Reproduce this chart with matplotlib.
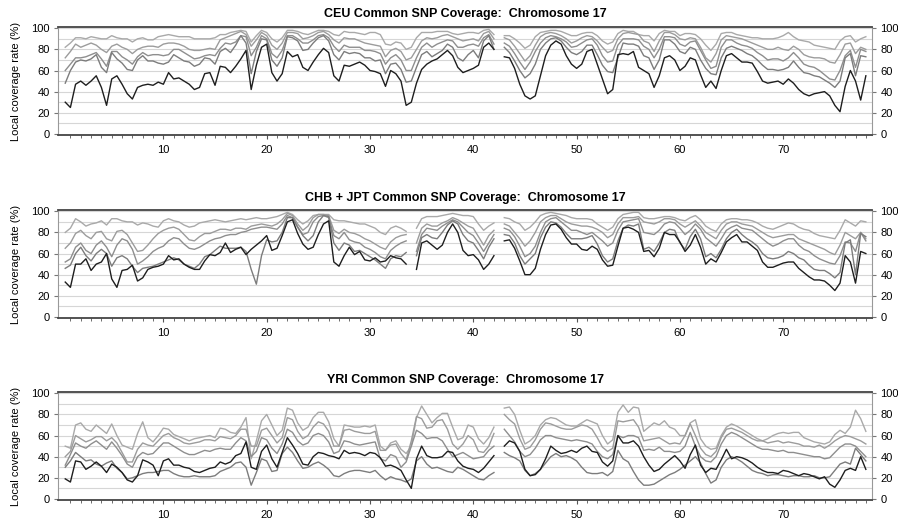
import numpy as np
import matplotlib.pyplot as plt

plt.rcParams['font.family'] = ['Liberation Sans', 'DejaVu Sans']

nan = np.nan

# window centres along chromosome 17 (Mb)
pos_mb = np.arange(0.5, 78.01, 0.5)

# CEU local coverage (%), five curves from top to bottom
ceu_1 = [82, 86, 91, 91, 90, 92, 91, 90, 90, 93,
         91, 90, 90, 87, 90, 91, 89, 89, 92, 93,
         94, 93, 92, 92, 92, 90, 90, 90, 90, 91,
         94, 94, 96, 97, 98, 97, 87, 93, 98, 96,
         90, 87, 91, 98, 98, 97, 95, 94, 96, 98,
         98, 97, 94, 93, 97, 96, 96, 95, 94, 96,
         96, 94, 85, 84, 87, 86, 80, 82, 91, 96,
         96, 96, 97, 97, 97, 95, 94, 95, 96, 96,
         95, 98, 99, 94, nan, 93, 93, 90, 86, 81,
         84, 92, 96, 97, 98, 98, 97, 95, 93, 93,
         95, 96, 96, 93, 88, 85, 87, 95, 98, 97,
         97, 94, 93, 93, 88, 95, 98, 97, 97, 93,
         95, 95, 94, 90, 84, 79, 85, 95, 96, 96,
         94, 93, 92, 91, 91, 90, 90, 90, 91, 93,
         96, 92, 89, 88, 87, 84, 83, 82, 81, 80,
         88, 92, 93, 87, 90, 92]
ceu_2 = [72, 78, 85, 82, 84, 86, 84, 80, 77, 83,
         85, 82, 80, 76, 80, 82, 83, 83, 82, 85,
         86, 86, 85, 83, 80, 79, 79, 80, 81, 80,
         89, 91, 93, 95, 97, 94, 83, 89, 96, 93,
         84, 80, 86, 96, 96, 95, 90, 91, 93, 96,
         97, 94, 89, 86, 91, 90, 90, 88, 86, 85,
         84, 83, 73, 79, 81, 78, 70, 72, 80, 88,
         91, 90, 91, 93, 94, 92, 90, 88, 89, 90,
         88, 95, 97, 90, nan, 91, 89, 83, 76, 69,
         74, 84, 92, 95, 96, 95, 93, 90, 86, 88,
         91, 93, 92, 88, 82, 77, 79, 90, 95, 96,
         95, 94, 88, 86, 78, 88, 96, 96, 94, 90,
         89, 91, 90, 82, 72, 68, 76, 89, 93, 92,
         91, 90, 88, 86, 84, 82, 80, 80, 82, 80,
         79, 83, 80, 75, 73, 72, 72, 71, 68, 67,
         75, 85, 86, 76, 82, 80]
ceu_3 = [60, 66, 72, 72, 73, 75, 77, 71, 64, 78,
         78, 73, 70, 66, 73, 77, 74, 75, 75, 74,
         75, 80, 80, 77, 74, 71, 72, 74, 75, 74,
         81, 86, 85, 87, 93, 92, 74, 82, 93, 90,
         76, 72, 79, 93, 93, 90, 86, 86, 89, 93,
         94, 91, 83, 78, 84, 82, 82, 82, 79, 79,
         78, 76, 66, 72, 75, 70, 60, 60, 72, 82,
         86, 82, 85, 87, 89, 88, 82, 82, 84, 85,
         83, 91, 94, 85, nan, 86, 83, 76, 68, 61,
         68, 78, 86, 91, 93, 92, 90, 87, 82, 83,
         86, 89, 90, 84, 74, 68, 69, 84, 90, 90,
         90, 89, 83, 80, 72, 80, 92, 92, 91, 85,
         83, 87, 88, 79, 70, 62, 64, 82, 89, 89,
         86, 84, 83, 81, 77, 74, 70, 71, 71, 69,
         72, 77, 72, 66, 64, 63, 60, 56, 52, 51,
         60, 74, 79, 63, 80, 78]
ceu_4 = [48, 60, 68, 70, 69, 71, 75, 63, 58, 77,
         71, 67, 61, 60, 70, 74, 69, 69, 67, 66,
         68, 75, 72, 69, 68, 64, 66, 72, 71, 66,
         78, 81, 77, 84, 93, 86, 57, 78, 90, 89,
         70, 64, 72, 92, 91, 88, 79, 80, 86, 91,
         93, 88, 75, 70, 78, 76, 77, 76, 72, 72,
         69, 70, 57, 66, 67, 61, 49, 50, 63, 75,
         78, 73, 76, 79, 85, 82, 72, 69, 75, 79,
         72, 88, 93, 80, nan, 82, 77, 69, 60, 53,
         57, 66, 80, 86, 90, 91, 88, 82, 77, 75,
         78, 84, 84, 75, 65, 59, 58, 72, 86, 85,
         85, 83, 74, 72, 61, 70, 89, 89, 85, 78,
         76, 82, 80, 70, 62, 57, 56, 72, 81, 83,
         81, 79, 76, 74, 70, 65, 61, 61, 60, 61,
         63, 69, 63, 58, 57, 55, 54, 51, 48, 44,
         50, 72, 76, 55, 74, 73]
ceu_5 = [30, 25, 47, 50, 46, 50, 55, 44, 27, 52,
         55, 47, 38, 33, 44, 46, 47, 46, 49, 47,
         58, 52, 53, 50, 47, 42, 44, 57, 58, 46,
         64, 63, 58, 64, 71, 79, 42, 65, 82, 85,
         58, 50, 57, 78, 73, 75, 63, 60, 68, 75,
         81, 77, 55, 50, 65, 64, 66, 68, 65, 60,
         59, 57, 45, 60, 57, 50, 27, 30, 48, 61,
         66, 69, 71, 75, 79, 74, 63, 58, 60, 62,
         65, 82, 86, 80, nan, 73, 72, 62, 47, 36,
         33, 36, 55, 74, 84, 88, 85, 74, 66, 62,
         66, 78, 80, 66, 52, 38, 42, 75, 76, 75,
         78, 63, 60, 57, 44, 55, 72, 74, 70, 60,
         64, 72, 70, 56, 44, 50, 43, 60, 74, 76,
         72, 68, 68, 67, 59, 50, 48, 49, 50, 47,
         52, 48, 42, 38, 36, 38, 39, 40, 36, 27,
         21, 45, 60, 50, 32, 55]

# CHB + JPT local coverage (%)
chb_1 = [80, 84, 93, 90, 86, 88, 89, 91, 87, 93,
         93, 91, 90, 90, 87, 89, 88, 86, 85, 91,
         93, 91, 90, 87, 85, 86, 89, 90, 91, 92,
         91, 90, 91, 92, 93, 92, 93, 94, 93, 93,
         94, 95, 97, 99, 97, 92, 88, 91, 96, 97,
         97, 97, 92, 91, 91, 90, 89, 88, 88, 86,
         84, 80, 78, 84, 86, 84, 81, nan, 84, 93,
         95, 95, 95, 96, 97, 98, 97, 96, 96, 95,
         88, 82, 86, 89, nan, 94, 93, 90, 88, 82,
         85, 90, 96, 98, 99, 98, 97, 96, 94, 93,
         93, 93, 92, 88, 85, 82, 85, 93, 97, 98,
         99, 99, 94, 93, 93, 94, 95, 95, 94, 92,
         91, 94, 96, 92, 86, 83, 81, 88, 92, 93,
         93, 92, 92, 91, 89, 86, 84, 83, 85, 87,
         89, 88, 85, 83, 82, 79, 77, 76, 75, 74,
         82, 92, 89, 86, 91, 90]
chb_2 = [65, 70, 79, 82, 77, 74, 80, 81, 74, 72,
         81, 82, 78, 70, 62, 63, 68, 74, 79, 82,
         84, 85, 83, 78, 73, 72, 76, 79, 79, 81,
         83, 83, 82, 84, 84, 83, 86, 87, 88, 87,
         86, 88, 92, 98, 96, 88, 82, 86, 94, 97,
         97, 96, 82, 79, 83, 80, 79, 77, 74, 72,
         69, 66, 64, 71, 75, 77, 78, nan, 70, 84,
         88, 86, 86, 89, 91, 94, 92, 89, 86, 84,
         76, 68, 77, 82, nan, 88, 86, 80, 74, 67,
         72, 80, 90, 94, 96, 96, 93, 90, 88, 87,
         86, 86, 85, 83, 80, 75, 78, 88, 94, 94,
         94, 95, 90, 89, 88, 90, 93, 93, 92, 88,
         85, 88, 91, 86, 80, 77, 74, 82, 88, 90,
         90, 88, 87, 86, 83, 80, 77, 75, 76, 77,
         78, 78, 74, 72, 70, 68, 66, 64, 61, 59,
         68, 80, 77, 74, 80, 74]
chb_3 = [52, 55, 66, 70, 63, 60, 68, 72, 66, 57,
         68, 74, 72, 64, 50, 53, 57, 62, 65, 67,
         72, 75, 74, 69, 65, 64, 66, 69, 72, 74,
         75, 77, 78, 78, 80, 81, 83, 84, 85, 85,
         84, 83, 88, 96, 94, 85, 78, 80, 90, 95,
         96, 94, 77, 74, 80, 73, 71, 70, 66, 64,
         61, 57, 55, 63, 67, 70, 72, nan, 62, 78,
         84, 83, 82, 86, 89, 92, 90, 85, 80, 77,
         70, 62, 70, 78, nan, 84, 82, 76, 67, 57,
         60, 67, 80, 90, 93, 94, 90, 86, 82, 82,
         80, 78, 80, 76, 72, 67, 70, 82, 90, 91,
         92, 93, 80, 79, 78, 82, 88, 90, 89, 84,
         78, 82, 88, 83, 75, 71, 67, 74, 82, 85,
         87, 84, 83, 82, 78, 74, 70, 67, 69, 72,
         74, 74, 68, 64, 62, 58, 55, 53, 51, 50,
         58, 71, 70, 62, 80, 72]
chb_4 = [46, 49, 60, 66, 58, 53, 60, 64, 60, 48,
         56, 58, 55, 48, 42, 46, 47, 48, 50, 52,
         54, 56, 54, 50, 48, 46, 50, 57, 59, 63,
         67, 65, 65, 65, 66, 62, 45, 31, 58, 73,
         71, 72, 80, 94, 94, 85, 77, 72, 77, 90,
         96, 95, 70, 63, 70, 68, 62, 63, 60, 57,
         54, 50, 46, 55, 58, 57, 61, nan, 58, 75,
         78, 75, 74, 80, 87, 91, 88, 78, 72, 70,
         63, 55, 66, 74, nan, 78, 77, 70, 58, 50,
         55, 60, 75, 85, 90, 89, 85, 79, 74, 74,
         74, 75, 77, 69, 58, 52, 55, 72, 84, 87,
         86, 88, 64, 66, 62, 70, 80, 83, 82, 70,
         64, 76, 83, 74, 57, 60, 56, 64, 74, 80,
         83, 78, 74, 71, 67, 60, 56, 55, 56, 58,
         62, 60, 56, 54, 49, 45, 44, 44, 41, 37,
         42, 70, 73, 40, 79, 76]
chb_5 = [33, 28, 50, 50, 55, 44, 50, 52, 60, 36,
         28, 44, 45, 49, 34, 37, 45, 47, 48, 50,
         58, 54, 55, 50, 47, 45, 45, 53, 59, 58,
         61, 70, 61, 64, 66, 59, 64, 68, 72, 77,
         63, 65, 77, 90, 92, 79, 69, 64, 66, 78,
         88, 91, 52, 48, 58, 66, 59, 62, 54, 53,
         56, 52, 53, 58, 56, 55, 50, nan, 45, 70,
         72, 68, 64, 68, 80, 88, 80, 63, 58, 59,
         54, 45, 50, 58, nan, 72, 73, 65, 53, 40,
         40, 46, 64, 78, 87, 88, 83, 75, 69, 69,
         64, 63, 67, 64, 54, 48, 49, 67, 84, 85,
         83, 80, 62, 63, 57, 65, 80, 78, 78, 71,
         62, 68, 78, 66, 50, 55, 52, 61, 71, 75,
         78, 71, 71, 67, 63, 52, 47, 47, 49, 51,
         52, 52, 46, 42, 38, 35, 35, 34, 30, 25,
         32, 58, 52, 32, 62, 60]

# YRI local coverage (%)
yri_1 = [50, 48, 70, 72, 66, 64, 70, 66, 62, 71,
         60, 51, 49, 47, 62, 73, 58, 54, 60, 67,
         66, 61, 59, 57, 55, 57, 58, 59, 60, 58,
         67, 66, 63, 62, 68, 77, 38, 55, 74, 80,
         70, 60, 65, 86, 84, 72, 65, 68, 77, 82,
         82, 73, 57, 50, 70, 69, 68, 68, 69, 68,
         70, 50, 46, 53, 55, 47, 43, 50, 77, 88,
         80, 72, 77, 81, 81, 68, 56, 58, 70, 68,
         57, 52, 58, 68, nan, 86, 87, 80, 65, 52,
         55, 60, 70, 75, 77, 76, 73, 70, 69, 69,
         72, 75, 73, 71, 60, 52, 56, 82, 89, 82,
         87, 86, 64, 68, 72, 70, 74, 68, 66, 60,
         60, 72, 75, 57, 50, 47, 48, 60, 68, 71,
         69, 66, 63, 60, 57, 55, 57, 60, 62, 63,
         62, 63, 63, 58, 56, 54, 53, 52, 54, 61,
         65, 62, 68, 84, 76, 64]
yri_2 = [40, 45, 60, 57, 54, 56, 59, 59, 55, 58,
         53, 44, 35, 35, 47, 53, 51, 50, 55, 60,
         62, 58, 56, 53, 52, 53, 54, 56, 56, 55,
         59, 58, 57, 60, 66, 66, 50, 50, 65, 67,
         60, 53, 58, 77, 75, 64, 57, 60, 68, 73,
         71, 64, 50, 50, 65, 66, 64, 63, 62, 62,
         64, 46, 46, 51, 52, 43, 37, 55, 78, 76,
         67, 68, 74, 75, 66, 52, 47, 52, 60, 56,
         45, 44, 50, 62, nan, 80, 75, 71, 57, 47,
         49, 56, 66, 72, 71, 69, 67, 66, 66, 68,
         70, 69, 66, 58, 49, 45, 48, 74, 73, 74,
         75, 68, 55, 56, 57, 58, 55, 52, 53, 52,
         60, 71, 60, 48, 42, 40, 45, 58, 66, 67,
         65, 63, 60, 57, 55, 55, 53, 54, 55, 53,
         54, 53, 52, 50, 50, 49, 51, 48, 51, 55,
         58, 60, 59, 57, 55, 52]
yri_3 = [32, 42, 53, 50, 48, 52, 55, 51, 47, 54,
         48, 41, 33, 30, 40, 44, 42, 43, 48, 53,
         53, 50, 47, 44, 42, 42, 44, 46, 45, 47,
         48, 47, 47, 53, 58, 55, 40, 45, 58, 56,
         48, 43, 52, 66, 63, 55, 51, 53, 60, 62,
         60, 54, 43, 45, 55, 54, 52, 51, 52, 53,
         54, 38, 36, 42, 40, 30, 35, 50, 65, 62,
         57, 58, 58, 55, 47, 40, 42, 44, 41, 38,
         39, 40, 46, 50, nan, 66, 60, 54, 45, 40,
         42, 48, 56, 60, 60, 58, 57, 56, 55, 56,
         55, 54, 52, 45, 40, 38, 42, 60, 58, 60,
         60, 58, 46, 47, 46, 49, 45, 45, 44, 45,
         50, 63, 50, 40, 36, 35, 40, 52, 60, 63,
         61, 58, 55, 52, 49, 47, 47, 46, 45, 46,
         44, 44, 43, 42, 41, 40, 40, 38, 39, 44,
         49, 52, 52, 50, 45, 40]
yri_4 = [30, 36, 44, 40, 36, 37, 33, 31, 34, 36,
         29, 25, 19, 20, 22, 24, 25, 25, 26, 27,
         27, 24, 22, 21, 21, 22, 21, 21, 21, 22,
         26, 28, 30, 34, 35, 30, 13, 25, 38, 36,
         26, 27, 43, 49, 44, 36, 29, 30, 33, 35,
         32, 28, 22, 21, 24, 26, 27, 27, 26, 25,
         27, 22, 18, 21, 19, 18, 16, 19, 36, 40,
         33, 29, 30, 28, 26, 25, 30, 28, 25, 22,
         19, 18, 22, 25, nan, 44, 41, 39, 36, 27,
         22, 24, 28, 34, 40, 43, 40, 41, 39, 36,
         30, 25, 24, 24, 25, 22, 26, 46, 38, 35,
         26, 18, 13, 13, 14, 17, 20, 23, 25, 28,
         32, 36, 40, 34, 24, 15, 18, 30, 37, 40,
         38, 35, 31, 27, 25, 24, 22, 23, 23, 22,
         21, 22, 22, 21, 21, 22, 20, 20, 21, 27,
         33, 35, 33, 48, 42, 36]
yri_5 = [19, 16, 36, 35, 28, 31, 35, 31, 25, 33,
         30, 25, 18, 16, 22, 37, 35, 32, 22, 36,
         38, 32, 32, 30, 29, 26, 25, 27, 29, 30,
         35, 33, 35, 41, 43, 54, 30, 28, 45, 51,
         38, 30, 44, 58, 51, 43, 33, 32, 40, 44,
         43, 41, 40, 38, 46, 43, 44, 43, 41, 44,
         43, 39, 31, 32, 30, 27, 18, 10, 38, 50,
         41, 39, 39, 40, 45, 44, 36, 31, 29, 28,
         25, 29, 35, 41, nan, 50, 55, 53, 45, 28,
         22, 23, 28, 38, 50, 46, 43, 44, 46, 44,
         48, 50, 45, 44, 35, 31, 36, 60, 53, 53,
         55, 50, 40, 32, 26, 28, 33, 37, 41, 36,
         29, 42, 51, 32, 25, 29, 28, 37, 47, 38,
         40, 39, 37, 34, 30, 27, 25, 25, 24, 27,
         26, 24, 22, 24, 23, 21, 19, 21, 14, 11,
         18, 27, 29, 27, 40, 28]

titles = ["CEU Common SNP Coverage:  Chromosome 17",
          "CHB + JPT Common SNP Coverage:  Chromosome 17",
          "YRI Common SNP Coverage:  Chromosome 17"]
panels = [[ceu_1, ceu_2, ceu_3, ceu_4, ceu_5],
          [chb_1, chb_2, chb_3, chb_4, chb_5],
          [yri_1, yri_2, yri_3, yri_4, yri_5]]
line_colors = ['#a9a9a9', '#9c9c9c', '#8e8e8e', '#7c7c7c', '#1e1e1e']
bottoms = [0.742, 0.392, 0.044]

fig = plt.figure(figsize=(8.98, 5.23), dpi=100)

for title, series, b in zip(titles, panels, bottoms):
    ax = fig.add_axes([0.0646, b, 0.9065, 0.206])
    for g in range(10, 101, 10):
        ax.axhline(g, color='#d6d6d6', lw=0.8, zorder=0)
    for vals, col in zip(series, line_colors):
        ax.plot(pos_mb, vals, color=col, lw=1.0)

    ax.set_xlim(-0.2, 78.6)
    ax.set_ylim(-1, 101)
    ax.set_yticks(range(0, 101, 20))
    ax.set_xticks(range(10, 71, 10))
    ax.set_xticks(range(1, 79), minor=True)
    ax.tick_params(axis='y', left=True, right=True, labelleft=True, labelright=True,
                   labelsize=8, length=3, color='#777777', pad=3)
    ax.tick_params(axis='x', which='major', labelsize=8, length=3, pad=4, color='#555555')
    ax.tick_params(axis='x', which='minor', length=2, color='#555555')

    for side in ['top', 'bottom']:
        ax.spines[side].set_color('#444444')
        ax.spines[side].set_linewidth(1.3)
    for side in ['left', 'right']:
        ax.spines[side].set_color('#999999')
        ax.spines[side].set_linewidth(0.8)

    ax.set_title(title, fontsize=9, fontweight='bold', pad=7)
    ax.set_ylabel("Local coverage rate (%)", fontsize=8, labelpad=7)

fig.savefig("out.png", dpi=100)
